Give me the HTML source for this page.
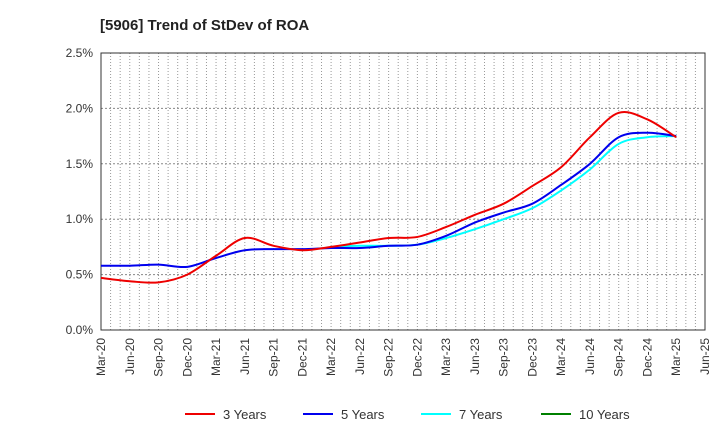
<!DOCTYPE html>
<html><head><meta charset="utf-8"><style>
body{margin:0;background:#fff;font-family:"Liberation Sans",Arial,sans-serif}
</style></head><body>
<svg id="c" width="720" height="440" xmlns="http://www.w3.org/2000/svg" font-family="Liberation Sans, Arial, sans-serif">
<text x="100" y="30" font-size="15" font-weight="bold" fill="#222">[5906]  Trend of StDev of ROA</text>
<g id="grid"></g><g id="axes"></g><g id="series"></g><g id="legend"></g>
</svg>
<script>
const xLabels=["Mar-20","Jun-20","Sep-20","Dec-20","Mar-21","Jun-21","Sep-21","Dec-21","Mar-22","Jun-22","Sep-22","Dec-22","Mar-23","Jun-23","Sep-23","Dec-23","Mar-24","Jun-24","Sep-24","Dec-24","Mar-25","Jun-25"];
const yTicks=[0,0.5,1.0,1.5,2.0,2.5];
const y3=[0.47,0.44,0.43,0.50,0.67,0.83,0.76,0.72,0.75,0.79,0.83,0.84,0.93,1.04,1.14,1.30,1.47,1.74,1.96,1.90,1.74];
const y5=[0.58,0.58,0.59,0.57,0.65,0.72,0.73,0.73,0.74,0.74,0.76,0.77,0.85,0.97,1.06,1.14,1.31,1.50,1.74,1.78,1.75];
const y7=[null,null,null,null,null,null,null,null,0.75,0.76,0.76,0.77,0.83,0.91,1.00,1.10,1.26,1.45,1.68,1.74,1.75];
const y10=[];
const L=101,R=705,T=53,B=330,NS="http://www.w3.org/2000/svg";
const months=63;
const X=i=>L+(i*3)*(R-L)/months;
const Y=v=>B-v/2.5*(B-T);
function mk(t,a,p){const e=document.createElementNS(NS,t);for(const k in a)e.setAttribute(k,a[k]);p.appendChild(e);return e;}
const g=document.getElementById('grid');
for(let m=1;m<months;m++){const x=L+m*(R-L)/months;
const l=mk('line',{x1:x,x2:x,y1:T,y2:B,stroke:'#999','stroke-width':1,'stroke-dasharray':'1,2'},g);

}
const ax=document.getElementById('axes');
yTicks.forEach(v=>{const y=Y(v);
if(v>0){const l=mk('line',{x1:L,x2:R,y1:y,y2:y,stroke:'#888','stroke-width':1,'stroke-dasharray':'2,2'},g);

}
const t=mk('text',{x:L-8,y:y+4,'text-anchor':'end','font-size':12,fill:'#333'},ax);t.textContent=v.toFixed(1)+'%';

});
const fr=mk('rect',{x:L,y:T,width:R-L,height:B-T,fill:'none',stroke:'#333','stroke-width':1},ax);


xLabels.forEach((s,i)=>{const x=X(i);
const t=mk('text',{x:x+4,y:B+8,'text-anchor':'end','font-size':12,fill:'#333',transform:`rotate(-90 ${x+4} ${B+8})`},ax);t.textContent=s;

});
function path(arr){const p=[];arr.forEach((v,i)=>{if(v!=null)p.push([X(i),Y(v)]);});if(p.length<2)return '';
let d=`M${p[0][0]},${p[0][1]}`;
for(let i=0;i<p.length-1;i++){const p0=p[i-1]||p[i],p1=p[i],p2=p[i+1],p3=p[i+2]||p2;
const c1=[p1[0]+(p2[0]-p0[0])/6,p1[1]+(p2[1]-p0[1])/6],c2=[p2[0]-(p3[0]-p1[0])/6,p2[1]-(p3[1]-p1[1])/6];
d+=`C${c1[0]},${c1[1]} ${c2[0]},${c2[1]} ${p2[0]},${p2[1]}`;}return d;}
const sg=document.getElementById('series');
[[y7,'#00ffff','line-7-years'],[y5,'#0000ee','line-5-years'],[y3,'#ee0000','line-3-years'],[y10,'#008000','line-10-years']].forEach(([a,c,n])=>{
const d=path(a);if(!d)return;const e=mk('path',{d:d,fill:'none',stroke:c,'stroke-width':2},sg);

});
const lg=document.getElementById('legend');
[['3 Years','#ee0000',185],['5 Years','#0000ee',303],['7 Years','#00ffff',421],['10 Years','#008000',541]].forEach(([s,c,x])=>{
const gi=mk('g',{},lg);


mk('line',{x1:x,x2:x+30,y1:414,y2:414,stroke:c,'stroke-width':2},gi);
const t=mk('text',{x:x+38,y:419,'font-size':13,fill:'#333'},gi);t.textContent=s;});
</script>
</body></html>
